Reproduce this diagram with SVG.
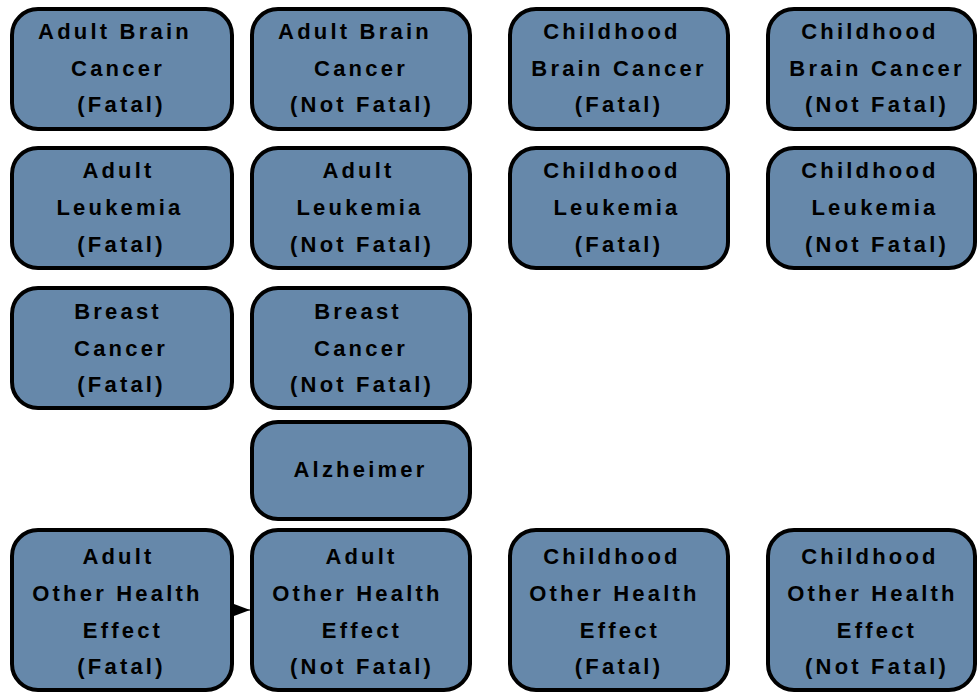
<svg xmlns="http://www.w3.org/2000/svg" width="977" height="694" viewBox="0 0 977 694">
<style>
.box{fill:#6688aa;stroke:#000;stroke-width:4}
.t{font-family:"Liberation Sans",Arial,sans-serif;font-weight:bold;font-size:22px;letter-spacing:3.2px;fill:#000;text-anchor:middle}
.edge{stroke:#000;stroke-width:1;fill:none}
</style>
<defs>
<marker id="arr" markerUnits="userSpaceOnUse" markerWidth="17" markerHeight="12" refX="16" refY="6" orient="auto">
<path d="M0,0 L16,6 L0,12 z" fill="#000"/>
</marker>
</defs>
<rect width="977" height="694" fill="#fff"/>
<g id="connectors">
<line class="edge" x1="232" y1="610" x2="250" y2="610" marker-end="url(#arr)"/>
</g>
<g id="adult-brain-fatal">
<rect class="box" x="12" y="9" width="220" height="120" rx="26"/>
<text class="t" x="115" y="39">Adult Brain</text>
<text class="t" x="118" y="76">Cancer</text>
<text class="t" x="121.5" y="112">(Fatal)</text>
</g>
<g id="adult-brain-notfatal">
<rect class="box" x="252" y="9" width="218" height="120" rx="26"/>
<text class="t" x="355" y="39">Adult Brain</text>
<text class="t" x="361" y="76">Cancer</text>
<text class="t" x="362" y="112">(Not Fatal)</text>
</g>
<g id="child-brain-fatal">
<rect class="box" x="510" y="9" width="218" height="120" rx="26"/>
<text class="t" x="612" y="39">Childhood</text>
<text class="t" x="619" y="76">Brain Cancer</text>
<text class="t" x="619" y="112">(Fatal)</text>
</g>
<g id="child-brain-notfatal">
<rect class="box" x="768" y="9" width="207" height="120" rx="26"/>
<text class="t" x="870" y="39">Childhood</text>
<text class="t" x="877" y="76">Brain Cancer</text>
<text class="t" x="877" y="112">(Not Fatal)</text>
</g>
<g id="adult-leuk-fatal">
<rect class="box" x="12" y="148" width="220" height="120" rx="26"/>
<text class="t" x="118.5" y="178">Adult</text>
<text class="t" x="120" y="215">Leukemia</text>
<text class="t" x="121.5" y="252">(Fatal)</text>
</g>
<g id="adult-leuk-notfatal">
<rect class="box" x="252" y="148" width="218" height="120" rx="26"/>
<text class="t" x="358.5" y="178">Adult</text>
<text class="t" x="360" y="215">Leukemia</text>
<text class="t" x="362" y="252">(Not Fatal)</text>
</g>
<g id="child-leuk-fatal">
<rect class="box" x="510" y="148" width="218" height="120" rx="26"/>
<text class="t" x="612" y="178">Childhood</text>
<text class="t" x="617" y="215">Leukemia</text>
<text class="t" x="619" y="252">(Fatal)</text>
</g>
<g id="child-leuk-notfatal">
<rect class="box" x="768" y="148" width="207" height="120" rx="26"/>
<text class="t" x="870" y="178">Childhood</text>
<text class="t" x="875" y="215">Leukemia</text>
<text class="t" x="877" y="252">(Not Fatal)</text>
</g>
<g id="breast-fatal">
<rect class="box" x="12" y="288" width="220" height="120" rx="26"/>
<text class="t" x="118" y="319">Breast</text>
<text class="t" x="121" y="356">Cancer</text>
<text class="t" x="121.5" y="392">(Fatal)</text>
</g>
<g id="breast-notfatal">
<rect class="box" x="252" y="288" width="218" height="120" rx="26"/>
<text class="t" x="358" y="319">Breast</text>
<text class="t" x="361" y="356">Cancer</text>
<text class="t" x="362" y="392">(Not Fatal)</text>
</g>
<g id="alzheimer">
<rect class="box" x="252" y="422" width="218" height="97" rx="26"/>
<text class="t" x="360.5" y="477">Alzheimer</text>
</g>
<g id="adult-other-fatal">
<rect class="box" x="12" y="530" width="220" height="160" rx="26"/>
<text class="t" x="118.5" y="564">Adult</text>
<text class="t" x="117.5" y="601">Other Health</text>
<text class="t" x="123" y="638">Effect</text>
<text class="t" x="121.5" y="674">(Fatal)</text>
</g>
<g id="adult-other-notfatal">
<rect class="box" x="252" y="530" width="218" height="160" rx="26"/>
<text class="t" x="361.5" y="564">Adult</text>
<text class="t" x="357.5" y="601">Other Health</text>
<text class="t" x="362" y="638">Effect</text>
<text class="t" x="362" y="674">(Not Fatal)</text>
</g>
<g id="child-other-fatal">
<rect class="box" x="510" y="530" width="218" height="160" rx="26"/>
<text class="t" x="612" y="564">Childhood</text>
<text class="t" x="614.5" y="601">Other Health</text>
<text class="t" x="620" y="638">Effect</text>
<text class="t" x="619" y="674">(Fatal)</text>
</g>
<g id="child-other-notfatal">
<rect class="box" x="768" y="530" width="207" height="160" rx="26"/>
<text class="t" x="870" y="564">Childhood</text>
<text class="t" x="872.5" y="601">Other Health</text>
<text class="t" x="877" y="638">Effect</text>
<text class="t" x="877" y="674">(Not Fatal)</text>
</g>
</svg>
